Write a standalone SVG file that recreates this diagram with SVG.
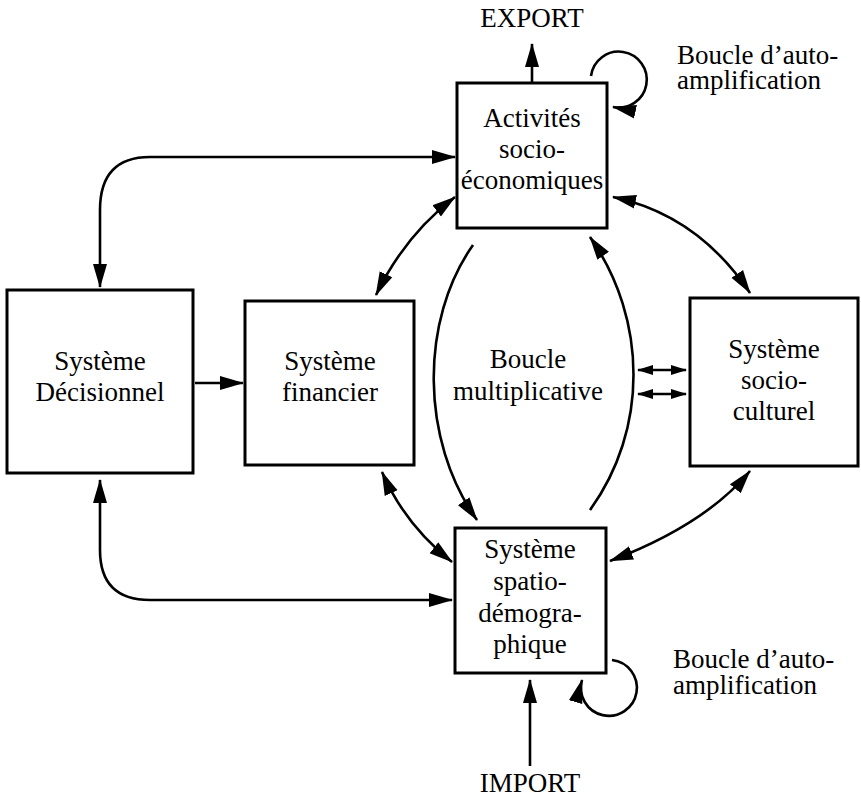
<svg xmlns="http://www.w3.org/2000/svg" width="861" height="798" viewBox="0 0 861 798">
<defs>
<marker id="ah" markerUnits="userSpaceOnUse" markerWidth="26" markerHeight="16" refX="23" refY="7" orient="auto-start-reverse" viewBox="0 0 26 14">
<path d="M0,0 L24,7 L0,14 z" fill="#000"/>
</marker>
<marker id="ahs" markerUnits="userSpaceOnUse" markerWidth="17" markerHeight="11" refX="15" refY="5" orient="auto-start-reverse" viewBox="0 0 17 10">
<path d="M0,0 L16,5 L0,10 z" fill="#000"/>
</marker>
</defs>
<style>
.box{fill:#fff;stroke:#000;stroke-width:3}
.t{font-family:"Liberation Serif","Times New Roman",serif;font-size:27px;fill:#000;text-anchor:middle}
.l{font-family:"Liberation Serif","Times New Roman",serif;font-size:27px;fill:#000}
.c{fill:none;stroke:#000;stroke-width:2.6}
</style>
<rect width="861" height="798" fill="#fff"/>
<g id="connectors">
<path class="c" d="M532,83 L532,44" marker-end="url(#ah)"/>
<path class="c" d="M591,76 A28,28 0 1 1 613,107" marker-end="url(#ah)"/>
<path class="c" d="M100,287 L100,210 Q100,157 150,157 L455,157" marker-start="url(#ah)" marker-end="url(#ah)"/>
<path class="c" d="M376,295 Q405,235 455,197" marker-start="url(#ah)" marker-end="url(#ah)"/>
<path class="c" d="M613,197 Q698,215 750,293" marker-start="url(#ah)" marker-end="url(#ah)"/>
<path class="c" d="M473,245 C420,320 420,440 477,520" marker-end="url(#ah)"/>
<path class="c" d="M590,510 C648,430 648,320 590,237" marker-end="url(#ah)"/>
<path class="c" d="M638,370 L686,370" marker-start="url(#ahs)" marker-end="url(#ahs)"/>
<path class="c" d="M638,394 L686,394" marker-start="url(#ahs)" marker-end="url(#ahs)"/>
<path class="c" d="M195,383 L243,383" marker-end="url(#ah)"/>
<path class="c" d="M382,472 Q405,525 452,562" marker-start="url(#ah)" marker-end="url(#ah)"/>
<path class="c" d="M100,480 L100,550 Q100,600 150,600 L452,600" marker-start="url(#ah)" marker-end="url(#ah)"/>
<path class="c" d="M750,471 Q705,525 610,561" marker-start="url(#ah)" marker-end="url(#ah)"/>
<path class="c" d="M530,766 L530,680" marker-end="url(#ah)"/>
<path class="c" d="M612,660 A28,28 0 1 1 582,680" marker-end="url(#ah)"/>
</g>
<g id="activites">
<rect class="box" x="457" y="83" width="150" height="145"/>
<text class="t" x="532" y="127">Activités</text>
<text class="t" x="532" y="158">socio-</text>
<text class="t" x="532" y="189">économiques</text>
</g>
<g id="decisionnel">
<rect class="box" x="7" y="290" width="186" height="183"/>
<text class="t" x="100" y="370">Système</text>
<text class="t" x="100" y="401">Décisionnel</text>
</g>
<g id="financier">
<rect class="box" x="245" y="301" width="169" height="164"/>
<text class="t" x="330" y="370">Système</text>
<text class="t" x="330" y="401">financier</text>
</g>
<g id="boucle-mult">
<text class="t" x="528" y="368">Boucle</text>
<text class="t" x="528" y="400">multiplicative</text>
</g>
<g id="socioculturel">
<rect class="box" x="690" y="298" width="168" height="168"/>
<text class="t" x="774" y="358">Système</text>
<text class="t" x="774" y="389">socio-</text>
<text class="t" x="774" y="420">culturel</text>
</g>
<g id="spatio">
<rect class="box" x="455" y="528" width="151" height="145"/>
<text class="t" x="530" y="558">Système</text>
<text class="t" x="530" y="590">spatio-</text>
<text class="t" x="530" y="622">démogra-</text>
<text class="t" x="530" y="653">phique</text>
</g>
<g id="labels">
<text class="t" x="532" y="27">EXPORT</text>
<text class="t" x="530" y="792">IMPORT</text>
<text class="l" x="677" y="64">Boucle d’auto-</text>
<text class="l" x="677" y="89">amplification</text>
<text class="l" x="673" y="668">Boucle d’auto-</text>
<text class="l" x="673" y="694">amplification</text>
</g>
</svg>
